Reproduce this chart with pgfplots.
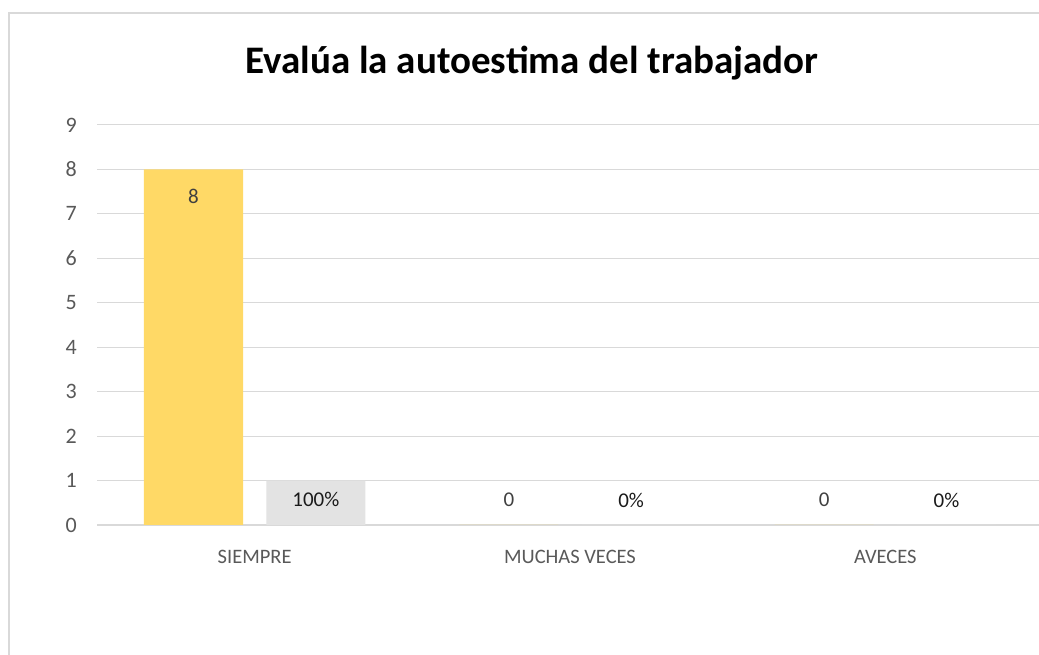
\documentclass[border=0pt]{standalone}
\usepackage{fontspec}
\setmainfont{Carlito}
\usepackage{pgfplots}
\pgfplotsset{compat=1.18}
\definecolor{ybarc}{HTML}{FFD966}
\definecolor{gbarc}{HTML}{E3E3E3}
\definecolor{gridc}{HTML}{D9D9D9}
\definecolor{tickc}{HTML}{595959}
\definecolor{lab1}{HTML}{404040}
\definecolor{lab2}{HTML}{1A1A1A}
\begin{document}
\begin{tikzpicture}[x=1pt,y=1pt]
\path[use as bounding box] (0,0) rectangle (1039,655);
\clip (0,0) rectangle (1039,655);
\fill[white] (0,0) rectangle (1039,655);
\draw[gridc, line width=2pt] (9,-5) -- (9,642) -- (1045,642);
\node[anchor=base, font=\fontsize{39}{44}\selectfont\bfseries] at (532,581) {Evalúa la autoestima del trabajador};
\begin{axis}[
  at={(97pt,130pt)}, anchor=south west,
  scale only axis, width=946pt, height=400pt,
  xmin=-0.5, xmax=2.5, ymin=0, ymax=9,
  xtick={0,1,2}, xticklabels={SIEMPRE, MUCHAS VECES, AVECES},
  ytick={0,1,...,9},
  ymajorgrids, grid style={gridc, line width=1pt},
  axis x line*=bottom, axis y line*=left,
  x axis line style={draw=gridc, line width=1.6pt},
  y axis line style={draw=none},
  major tick length=0pt,
  /pgf/number format/assume math mode=true,
  yticklabel style={font=\fontsize{22}{26}\selectfont, text=tickc, anchor=east, inner sep=0pt, xshift=-20pt},
  xticklabel style={font=\fontsize{20.5}{24}\selectfont, text=tickc, anchor=base, yshift=-39pt},
  ybar, bar width=0.314,
  point meta=explicit symbolic,
  nodes near coords,
  visualization depends on={y \as \ry},
  every node near coord/.append style={anchor=center, font=\fontsize{21}{25}\selectfont,
     yshift={ifthenelse(\ry>1.5,-27,ifthenelse(\ry>0.5,-19,25))*1pt}},
  clip=false,
]
\addplot[fill=ybarc, draw=none, bar shift=-0.194,
  every node near coord/.append style={text=lab1}]
  coordinates {(0,8) [8] (1,0) [0] (2,0) [0]};
\addplot[fill=gbarc, draw=none, bar shift=0.194,
  every node near coord/.append style={text=lab2}]
  coordinates {(0,1) [100\%] (1,0) [0\%] (2,0) [0\%]};
\end{axis}
\end{tikzpicture}
\end{document}
